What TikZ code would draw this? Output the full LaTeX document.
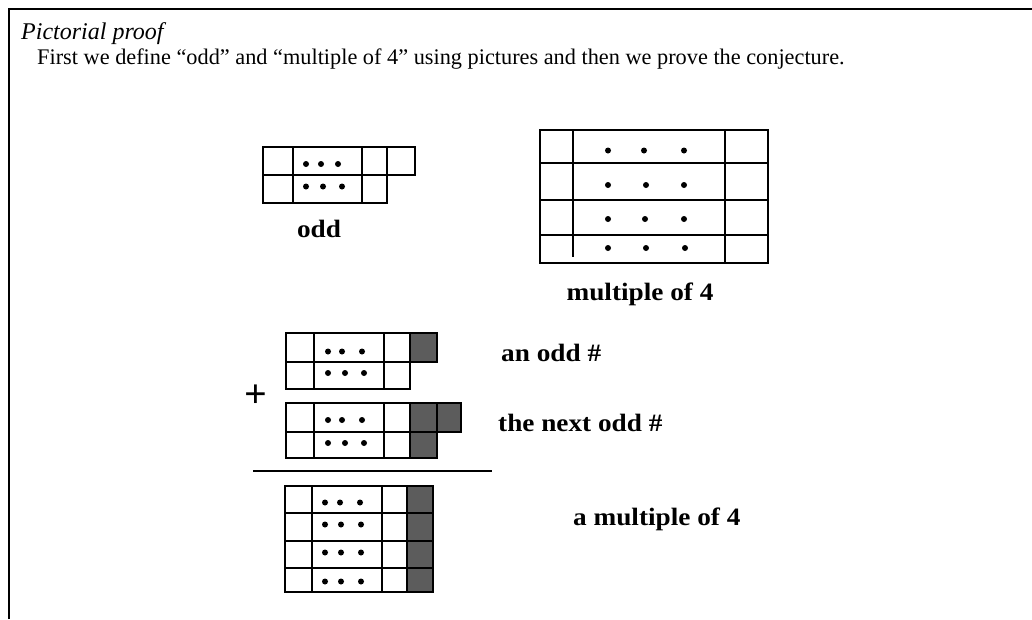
\documentclass[tikz,border=0pt]{standalone}
\usepackage{fontspec}
\setmainfont{Liberation Serif}
\newcommand{\widelbl}[1]{\scalebox{1.09}[1]{#1}}
\begin{document}
\begin{tikzpicture}[x=1pt,y=-1pt,
  grid/.style={line width=2pt,black},
  thick grid/.style={line width=2.8pt,black},
  shade/.style={fill=black!64},
  dot/.style={fill=black},
  lbl/.style={inner sep=0pt,font=\fontsize{25}{27}\selectfont\bfseries},
  head/.style={inner sep=0pt,font=\fontsize{22.3}{24}\selectfont}]
\useasboundingbox (0,0) rectangle (1032,619);
\fill[white] (0,0) rectangle (1032,619);
% frame
\draw[line width=1.3pt] (9,619) -- (9,9) -- (1032,9);

% heading
\node[head,anchor=base west,font=\fontsize{24}{26}\selectfont\itshape] (title) at (21,39) {Pictorial proof};
\node[head,anchor=base west] (intro) at (37,64) {First we define “odd” and “multiple of 4” using pictures and then we prove the conjecture.};

% ---- an odd number
\draw[grid] (263,147) rectangle (387,203) (263,175) -- (387,175)
  (293,147) -- (293,203) (362,147) -- (362,203)
  (387,147) rectangle (415,175);
\foreach \x in {306,321,338} \fill[dot] (\x,164) circle (3);
\foreach \x in {306,323,342} \fill[dot] (\x,186.5) circle (3);
\node[lbl,anchor=base] (oddlbl) at (319,237) {\widelbl{odd}};

% ---- a multiple of 4
\draw[grid] (540,163) -- (768,163) (540,235) -- (768,235)
  (573,130) -- (573,257) (725,130) -- (725,263);
\draw[thick grid] (540,200) -- (768,200);
\draw[thick grid] (540,130) rectangle (768,263);
\foreach \y/\a/\b/\c in {150.5/608/644/684,185/608/646/684,219/608/645/684,248/608/646/685}
  { \fill[dot] (\a,\y) circle (3); \fill[dot] (\b,\y) circle (3); \fill[dot] (\c,\y) circle (3); }
\node[lbl,anchor=base] (m4lbl) at (640,300) {\widelbl{multiple of 4}};

% ---- first addend
\fill[shade] (410,333) rectangle (437,362);
\draw[grid] (286,333) rectangle (410,389) (286,362) -- (410,362)
  (314,333) -- (314,389) (384,333) -- (384,389)
  (410,333) rectangle (437,362);
\foreach \x in {328,342,362} \fill[dot] (\x,351.5) circle (3);
\foreach \x in {328,345,364} \fill[dot] (\x,373) circle (3);
\node[lbl,anchor=base west] (albl) at (501,361) {\widelbl{an odd \#}};

% plus sign between the two addends
\node[inner sep=0pt,font=\fontsize{40}{40}\selectfont\bfseries] (plus) at (256,396) {+};

% ---- second addend
\fill[shade] (410,403) rectangle (437,458) (437,403) rectangle (461,432);
\draw[grid] (286,403) rectangle (410,458) (286,432) -- (437,432)
  (314,403) -- (314,458) (384,403) -- (384,458)
  (410,403) rectangle (437,458) (437,403) rectangle (461,432);
\foreach \x in {328,342,362} \fill[dot] (\x,420) circle (3);
\foreach \x in {328,345,364} \fill[dot] (\x,443) circle (3);
\node[lbl,anchor=base west] (blbl) at (498,431) {\widelbl{the next odd \#}};

% ---- sum rule
\coordinate (rulel) at (253,471);
\coordinate (ruler) at (492,471);
\draw[line width=2.2pt] (rulel) -- (ruler);

% ---- the sum
\fill[shade] (407,486) rectangle (433,592);
\draw[grid] (285,513) -- (433,513)
  (312,486) -- (312,592) (382,486) -- (382,592) (407,486) -- (407,592);
\draw[thick grid] (285,541) -- (433,541) (285,568) -- (433,568);
\draw[thick grid] (285,486) rectangle (433,592);
\foreach \y/\a/\b/\c in {502.5/325/340/360,524.5/325/341/361,552.5/325/341/361,581.5/325/341/361}
  { \fill[dot] (\a,\y) circle (3); \fill[dot] (\b,\y) circle (3); \fill[dot] (\c,\y) circle (3); }
\node[lbl,anchor=base west] (slbl) at (573,525) {\widelbl{a multiple of 4}};
\end{tikzpicture}
\end{document}
